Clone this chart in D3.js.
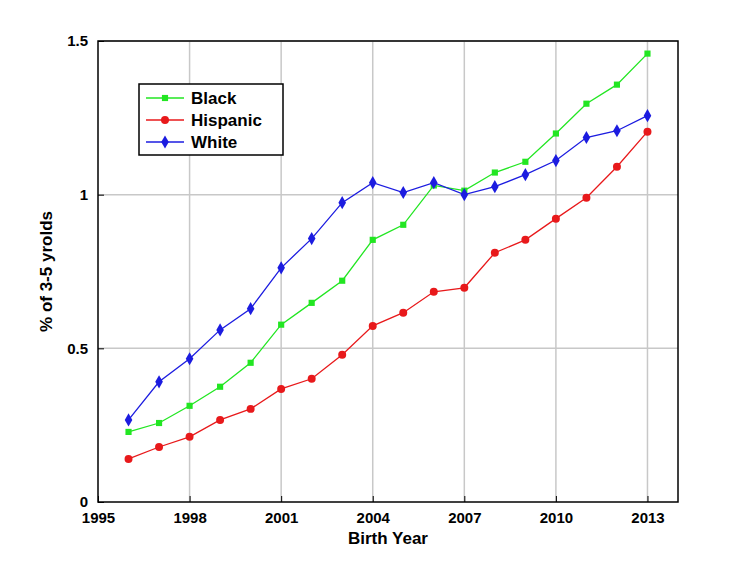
<!DOCTYPE html>
<html>
<head>
<meta charset="utf-8">
<script src="https://cdn.jsdelivr.net/npm/d3@7"></script>
<style>
body { margin: 0; background: #fff; }
text { font-family: "Liberation Sans", Arial, sans-serif; font-weight: bold; }
</style>
</head>
<body>
<svg id="chart" width="750" height="563"></svg>
<script>
var years = d3.range(1996, 2014);
var black = [0.228, 0.257, 0.313, 0.375, 0.453, 0.577, 0.648, 0.72, 0.853, 0.902, 1.03, 1.013, 1.072, 1.107, 1.199, 1.296, 1.358, 1.459];
var hispanic = [0.14, 0.179, 0.212, 0.267, 0.303, 0.368, 0.401, 0.479, 0.573, 0.616, 0.684, 0.697, 0.811, 0.853, 0.922, 0.99, 1.091, 1.205];
var white = [0.267, 0.391, 0.466, 0.56, 0.629, 0.762, 0.857, 0.974, 1.039, 1.007, 1.039, 1.0, 1.026, 1.065, 1.111, 1.186, 1.208, 1.257];
var xTicks = [1995, 1998, 2001, 2004, 2007, 2010, 2013];
var yTicks = [0, 0.5, 1, 1.5];

var svg = d3.select("#chart");
var x = d3.scaleLinear().domain([1995, 2014]).range([98, 678]);
var y = d3.scaleLinear().domain([0, 1.5]).range([502, 41]);

// grid
svg.selectAll("line.gx").data(xTicks.slice(1)).enter().append("line")
    .attr("x1", function(d) { return x(d); }).attr("x2", function(d) { return x(d); })
    .attr("y1", y(0)).attr("y2", y(1.5))
    .attr("stroke", "#c8c8c8").attr("stroke-width", 1.5);
svg.selectAll("line.gy").data(yTicks.slice(1)).enter().append("line")
    .attr("y1", function(d) { return y(d); }).attr("y2", function(d) { return y(d); })
    .attr("x1", x(1995)).attr("x2", x(2014))
    .attr("stroke", "#c8c8c8").attr("stroke-width", 1.5);

// axes with inward ticks
var xAxis = d3.axisBottom(x).tickValues(xTicks).tickFormat(d3.format("d")).tickSizeInner(-6).tickSizeOuter(0).tickPadding(10);
var yAxis = d3.axisLeft(y).tickValues(yTicks).tickFormat(function(d) { return d; }).tickSizeInner(-6).tickSizeOuter(0).tickPadding(10);
svg.append("g").attr("transform", "translate(0," + y(0) + ")").call(xAxis)
    .selectAll("text").style("font-size", "15px").attr("fill", "#000");
svg.append("g").attr("transform", "translate(" + x(1995) + ",0)").call(yAxis)
    .selectAll("text").style("font-size", "15px").attr("fill", "#000");
svg.selectAll(".domain").remove();
svg.append("rect").attr("x", x(1995)).attr("y", y(1.5))
    .attr("width", x(2014) - x(1995)).attr("height", y(0) - y(1.5))
    .attr("fill", "none").attr("stroke", "#000").attr("stroke-width", 1.5);

// labels
svg.append("text").attr("x", (x(1995) + x(2014)) / 2).attr("y", 544)
    .attr("text-anchor", "middle").style("font-size", "17px").text("Birth Year");
svg.append("text").attr("transform", "translate(52," + (y(0) + y(1.5)) / 2 + ") rotate(-90)")
    .attr("text-anchor", "middle").style("font-size", "17px").text("% of 3-5 yrolds");

var series = [
    { name: "Black", values: black, color: "#22e622", shape: d3.symbolSquare, size: 38 },
    { name: "Hispanic", values: hispanic, color: "#e8191b", shape: d3.symbolCircle, size: 50 },
    { name: "White", values: white, color: "#1c1ce0", shape: d3.symbolDiamond, size: 50 }
];

var line = d3.line().x(function(d, i) { return x(years[i]); }).y(function(d) { return y(d); });
series.forEach(function(s) {
    svg.append("path").datum(s.values).attr("d", line)
        .attr("fill", "none").attr("stroke", s.color).attr("stroke-width", 1.3);
    svg.selectAll(null).data(s.values).enter().append("path")
        .attr("d", d3.symbol().type(s.shape).size(s.size))
        .attr("transform", function(d, i) { return "translate(" + x(years[i]) + "," + y(d) + ")"; })
        .attr("fill", s.color);
});

// legend
var lg = svg.append("g");
lg.append("rect").attr("x", 139).attr("y", 84).attr("width", 144).attr("height", 71)
    .attr("fill", "#fff").attr("stroke", "#000").attr("stroke-width", 1.5);
series.forEach(function(s, i) {
    var ly = 98 + i * 22;
    lg.append("line").attr("x1", 146).attr("x2", 184).attr("y1", ly).attr("y2", ly)
        .attr("stroke", s.color).attr("stroke-width", 1.3);
    lg.append("path").attr("d", d3.symbol().type(s.shape).size(s.size))
        .attr("transform", "translate(165," + ly + ")").attr("fill", s.color);
    lg.append("text").attr("x", 191).attr("y", ly + 6).style("font-size", "17px").text(s.name);
});
</script>
</body>
</html>
